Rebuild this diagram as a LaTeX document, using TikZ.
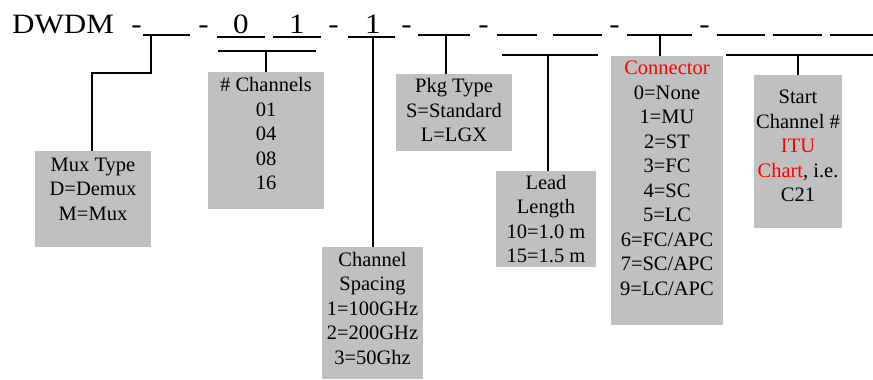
\documentclass[tikz,border=0pt]{standalone}
\usepackage{fontspec}
\setmainfont{Liberation Serif}
\newfontfamily\codefont[FakeStretch=1.11]{Liberation Serif}
\definecolor{boxgray}{HTML}{C0C0C0}
\definecolor{redtxt}{HTML}{FF0000}
\begin{document}
\begin{tikzpicture}[x=1pt,y=-1pt,
  box/.style={fill=boxgray, draw=none, inner sep=0pt, outer sep=0pt, anchor=north west},
  txt/.style={align=center, inner sep=0pt, font=\fontsize{20.5}{24.5}\selectfont, anchor=base},
  big/.style={inner sep=0pt, font=\codefont\fontsize{28}{34}\selectfont, anchor=base},
  seg/.style={line width=1.4pt},
  thickseg/.style={line width=2.6pt},
  conn/.style={line width=1.9pt}]
\useasboundingbox (0,0) rectangle (873,380);

% code line
\node[big, anchor=base west] (dwdm) at (12,33) {DWDM};
\node[big] (h1) at (136.5,33) {-};
\node[big] (h2) at (203.5,33) {-};
\node[big] (h3) at (333.5,33) {-};
\node[big] (h4) at (406.5,33) {-};
\node[big] (h5) at (483.5,33) {-};
\node[big] (h6) at (614.5,33) {-};
\node[big] (h7) at (704.5,33) {-};
\node[big] (d1) at (241,33) {0};
\node[big] (d2) at (297,33) {1};
\node[big] (d3) at (373,33) {1};

% underline segments
\draw[seg] (143,35) -- (190,35);
\draw[thickseg] (217,37) -- (265,37);
\draw[thickseg] (273,37) -- (321,37);
\draw[thickseg] (348,37) -- (395,37);
\draw[seg] (218,51) -- (316,51);
\draw[seg] (418,35) -- (470,35);
\draw[seg] (497,35) -- (537,35);
\draw[seg] (553,35) -- (602,35);
\draw[seg] (627,35) -- (692,35);
\draw[seg] (717,35) -- (765,35);
\draw[seg] (773,35) -- (822,35);
\draw[seg] (830,35) -- (873,35);
\draw[seg] (502,55) -- (598,55);
\draw[seg] (726,55) -- (873,55);

% connector start points
\coordinate (cmux) at (151,35);
\coordinate (cchan) at (266,51);
\coordinate (cspac) at (373,37);
\coordinate (cpkg) at (446,35);
\coordinate (clead) at (548,55);
\coordinate (ccon) at (660,35);
\coordinate (cstart) at (798,55);

% boxes
\node[box, minimum width=116pt, minimum height=96pt] (mux) at (35,151) {};
\node[box, minimum width=116pt, minimum height=137pt] (chan) at (208,72) {};
\node[box, minimum width=101pt, minimum height=132pt] (spac) at (322,247) {};
\node[box, minimum width=116pt, minimum height=77pt] (pkg) at (396,74) {};
\node[box, minimum width=100pt, minimum height=96pt] (lead) at (496,171) {};
\node[box, minimum width=112pt, minimum height=269pt] (con) at (611,56) {};
\node[box, minimum width=88pt, minimum height=153pt] (start) at (754,75) {};

% texts (anchor at baseline of last line)
\node[txt] (tmux) at (93,220) {Mux Type\\D=Demux\\M=Mux};
\node[txt] (tchan) at (266,189.5) {\# Channels\\01\\04\\08\\16};
\node[txt] (tspac) at (372.5,364) {Channel\\Spacing\\1=100GHz\\2=200GHz\\3=50Ghz};
\node[txt] (tpkg) at (454,141.7) {Pkg Type\\S=Standard\\L=LGX};
\node[txt] (tlead) at (546,262.7) {Lead\\Length\\10=1.0 m\\15=1.5 m};
\node[txt] (tcon) at (667,295) {\textcolor{redtxt}{Connector}\\0=None\\1=MU\\2=ST\\3=FC\\4=SC\\5=LC\\6=FC/APC\\7=SC/APC\\9=LC/APC};
\node[txt] (tstart) at (798,201.7) {Start\\Channel \#\\\textcolor{redtxt}{ITU}\\\textcolor{redtxt}{Chart}, i.e.\\C21};

% connectors
\draw[conn] (cmux) -- (151,73) -| (mux.north -| 92,0);
\draw[conn] (cchan) -- (chan.north);
\draw[conn] (cspac) -- (spac.north -| cspac);
\draw[conn] (cpkg) -- (pkg.north -| cpkg);
\draw[conn] (clead) -- (lead.north -| clead);
\draw[conn] (ccon) -- (con.north -| ccon);
\draw[conn] (cstart) -- (start.north -| cstart);
\end{tikzpicture}
\end{document}
